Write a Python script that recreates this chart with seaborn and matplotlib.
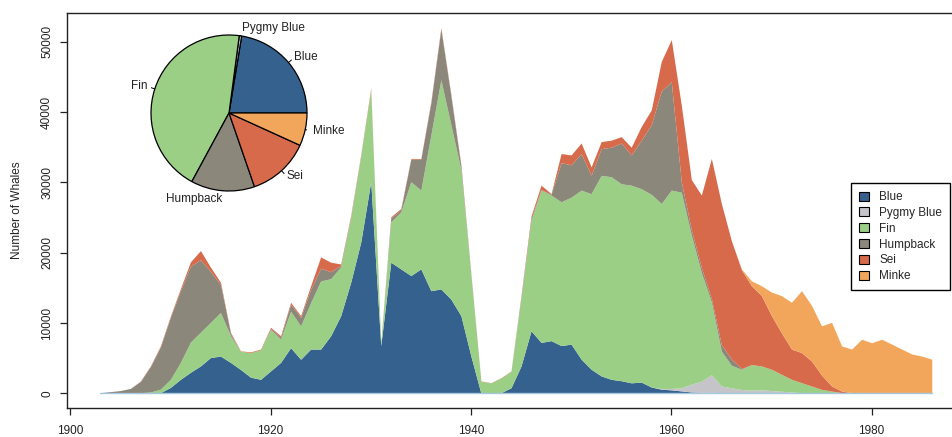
import matplotlib
matplotlib.use("Agg")
import matplotlib.pyplot as plt
from matplotlib.patches import Patch
import numpy as np
import seaborn as sns

# Antarctic whale catches per season, by species
years = list(range(1903, 1987))

blue = [0, 0, 0, 0, 0, 0, 100, 850, 2000, 3000,
        3900, 5100, 5300, 4400, 3400, 2300, 2000, 3200, 4400, 6500,
        4850, 6300, 6300, 8200, 11050, 15800, 21500, 30100, 6800, 18650,
        17700, 16750, 17700, 14600, 14850, 13400, 11050, 5300, 0, 0,
        100, 800, 3900, 8900, 7240, 7500, 6800, 7000, 4860, 3430,
        2480, 2000, 1800, 1500, 1600, 900, 600, 500, 350, 200,
        150, 150, 100, 100, 50, 50, 50, 50, 0, 0,
        0, 0, 0, 0, 0, 0, 0, 0, 0, 0,
        0, 0, 0, 0]

pygmy_blue = [0, 0, 0, 0, 0, 0, 0, 0, 0, 0,
              0, 0, 0, 0, 0, 0, 0, 0, 0, 0,
              0, 0, 0, 0, 0, 0, 0, 0, 0, 0,
              0, 0, 0, 0, 0, 0, 0, 0, 0, 0,
              0, 0, 0, 0, 0, 0, 0, 0, 0, 0,
              0, 0, 0, 0, 0, 0, 100, 200, 450, 1100,
              1600, 2500, 950, 700, 500, 400, 450, 350, 300, 200,
              100, 0, 0, 0, 0, 0, 0, 0, 0, 0,
              0, 0, 0, 0]

fin = [0, 0, 0, 50, 100, 200, 500, 1150, 2400, 4300,
       4800, 5000, 6200, 3800, 2600, 3500, 4200, 5900, 3300, 5200,
       4750, 6600, 9700, 8100, 6950, 9200, 12200, 13000, 400, 5750,
       8100, 13350, 11200, 22150, 29750, 24800, 20750, 11500, 1700, 1500,
       2100, 2350, 9600, 15700, 21660, 20700, 20440, 20900, 24040, 24970,
       28520, 28800, 28000, 28100, 27500, 27400, 26300, 28200, 27800, 21200,
       15450, 10350, 4950, 3200, 2880, 3650, 3400, 3030, 2410, 1800,
       1420, 1050, 570, 330, 100, 0, 0, 0, 0, 0,
       0, 0, 0, 0]

humpback = [100, 250, 400, 650, 1600, 3600, 6000, 8800, 10200, 10800,
            10300, 7250, 4000, 320, 0, 0, 0, 150, 300, 1000,
            1200, 1900, 1800, 1000, 200, 100, 0, 100, 0, 500,
            300, 3200, 4400, 4550, 7200, 4100, 500, 100, 0, 0,
            0, 0, 200, 300, 100, 100, 5560, 4600, 5200, 2600,
            3800, 4200, 5800, 4300, 6900, 9900, 16000, 15400, 1500, 800,
            700, 500, 900, 900, 100, 0, 0, 0, 0, 0,
            0, 0, 0, 0, 0, 0, 0, 0, 0, 0,
            0, 0, 0, 0]

sei = [0, 0, 0, 0, 50, 100, 150, 200, 300, 600,
       1300, 600, 300, 150, 50, 100, 100, 150, 200, 250,
       250, 500, 1600, 1350, 200, 200, 200, 200, 0, 200,
       200, 100, 100, 200, 200, 200, 200, 100, 60, 20,
       40, 40, 200, 340, 600, 100, 1300, 1400, 1500, 1200,
       1000, 1000, 900, 1100, 1950, 2100, 4200, 6000, 10900, 7100,
       10300, 19900, 20100, 16800, 14070, 11200, 10000, 7620, 5890, 4300,
       4280, 3550, 2030, 720, 230, 100, 0, 0, 0, 0,
       0, 0, 0, 0]

minke = [0, 0, 0, 0, 0, 0, 0, 0, 0, 0,
         0, 0, 0, 0, 0, 0, 0, 0, 0, 0,
         0, 0, 0, 0, 0, 0, 0, 0, 0, 0,
         0, 0, 0, 0, 0, 0, 0, 0, 0, 0,
         0, 0, 0, 0, 0, 0, 0, 0, 0, 0,
         0, 0, 0, 0, 0, 0, 0, 0, 0, 0,
         0, 0, 0, 0, 100, 700, 1400, 3350, 5300, 6650,
         8800, 7900, 7000, 9050, 6420, 6200, 7700, 7200, 7700, 7000,
         6300, 5600, 5300, 4860]

species = ["Blue", "Pygmy Blue", "Fin", "Humpback", "Sei", "Minke"]
# share of the total catch over the whole period, in percent
pie_share = [22.4, 0.5, 44.2, 13.2, 12.9, 6.8]

x_ticks = [1900, 1920, 1940, 1960, 1980]
y_ticks = [0, 10000, 20000, 30000, 40000, 50000]

sns.set_theme(style="ticks")
plt.rcParams["font.family"] = ["Liberation Sans", "DejaVu Sans"]
palette = sns.color_palette(["#35618f", "#c4c4c9", "#9bcf86",
                             "#8b877b", "#d66a4a", "#f2a65b"])
fs = 8.5

fig = plt.figure(figsize=(9.52, 4.37), dpi=100)
ax = fig.add_axes([0.07038, 0.06636, 0.94328, 0.90389])

ax.stackplot(years, blue, pygmy_blue, fin, humpback, sei, minke,
             colors=palette, linewidth=0)
ax.plot([years[0], years[-1]], [0, 0], color="#a6c8dc", lw=1.0)

ax.set_xlim(1899.68, 1989.32)
ax.set_ylim(-2080, 54080)
ax.set_xticks(x_ticks)
ax.set_xticklabels([str(v) for v in x_ticks], fontsize=fs, color="#222222")
ax.set_yticks(y_ticks)
ax.set_yticklabels([str(v) for v in y_ticks], rotation=90, va="center",
                   fontsize=fs, color="#222222")
ax.tick_params(axis="both", direction="out", length=5, width=0.9,
               color="#222222")
ax.tick_params(axis="x", pad=7)
ax.tick_params(axis="y", pad=5)
for side in ("left", "top", "bottom"):
    ax.spines[side].set_color("#222222")
    ax.spines[side].set_linewidth(1.0)
ax.spines["right"].set_visible(False)

ax.set_ylabel("Number of Whales", fontsize=fs, color="#222222")
ax.yaxis.label.set_va("center")
ax.yaxis.set_label_coords(-0.0557, 0.5)

handles = [Patch(facecolor=c, edgecolor="black", linewidth=0.8, label=s)
           for c, s in zip(palette, species)]
leg = ax.legend(handles=handles, loc="upper left",
                bbox_to_anchor=(851 / 952, 1 - 183 / 437),
                bbox_transform=fig.transFigure, borderaxespad=0,
                fancybox=False, framealpha=1, edgecolor="black",
                fontsize=fs, borderpad=0.7, handlelength=0.8,
                handleheight=0.8, handletextpad=0.9, labelspacing=0.32)
leg.get_frame().set_linewidth(1.0)

# inset pie of overall shares
pax = fig.add_axes([151 / 952, 1 - 191 / 437, 156 / 952, 156 / 437])
wedges, texts = pax.pie(pie_share, colors=palette, labels=species,
                        labeldistance=1.1, startangle=0, counterclock=True,
                        wedgeprops=dict(edgecolor="black", linewidth=0.9),
                        textprops=dict(fontsize=fs, color="#222222"))
for w in wedges:
    mid = np.deg2rad((w.theta1 + w.theta2) / 2)
    pax.plot([np.cos(mid), 1.05 * np.cos(mid)],
             [np.sin(mid), 1.05 * np.sin(mid)], color="black", lw=0.7)
pax.set_xlim(-1, 1)
pax.set_ylim(-1, 1)
pax.set_aspect("equal")
pax.axis("off")

fig.savefig("out.png", dpi=100)
